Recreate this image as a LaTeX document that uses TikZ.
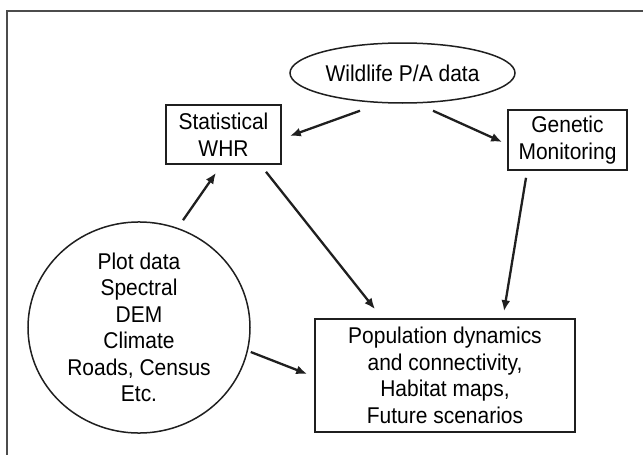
\documentclass[tikz,border=0pt]{standalone}
\usepackage{fontspec}
\setmainfont{Liberation Sans}[FakeStretch=0.92]
\usetikzlibrary{shapes.geometric,arrows.meta,calc}
\begin{document}
\begin{tikzpicture}[x=1pt,y=-1pt,
  every node/.style={font=\fontsize{22.8}{26.5}\selectfont, align=center, text=black},
  boxnode/.style={draw=black!88, line width=1.6pt, rectangle, inner sep=0pt},
  ovalnode/.style={draw=black!88, line width=1.5pt, ellipse, inner sep=0pt},
  arr/.style={draw=black!88, line width=2.3pt, -{Latex[length=11pt,width=9pt]}},
  frameline/.style={draw=black!70, line width=2pt}]
\useasboundingbox (0,0) rectangle (643,455);
\draw[frameline] (6.5,470) -- (6.5,11) -- (660,11);
\node[ovalnode, minimum width=225pt, minimum height=60pt] (w) at (402.5,73) {Wildlife P/A data};
\node[boxnode, minimum width=115pt, minimum height=59pt] (s) at (223.5,134.5) {Statistical\\WHR};
\node[boxnode, minimum width=119pt, minimum height=60pt] (g) at (567.5,140) {Genetic\\Monitoring};
\node[ovalnode, minimum width=222pt, minimum height=205pt] (p) at (139,327.5) {Plot data\\Spectral\\DEM\\Climate\\Roads, Census\\Etc.};
\node[boxnode, minimum width=260pt, minimum height=113pt] (q) at (445,375.5) {Population dynamics\\and connectivity,\\Habitat maps,\\Future scenarios};
\draw[arr] ($(w.south)+(-42.5,7)$) -- ($(s.east)+(8,1.5)$);
\draw[arr] ($(w.south)+(30.5,7)$) -- ($(g.west)+(-5,2)$);
\draw[arr] ($(p.north)+(44,-1)$) -- ($(s.south)+(-7.5,8)$);
\draw[arr] ($(s.south)+(42.5,7)$) -- ($(q.north)+(-70,-9)$);
\draw[arr] ($(g.south)+(-41.5,7)$) -- ($(q.north)+(59,-7)$);
\draw[arr] ($(p.east)+(0,24.5)$) -- ($(q.west)+(-7,-1.5)$);
\end{tikzpicture}
\end{document}
